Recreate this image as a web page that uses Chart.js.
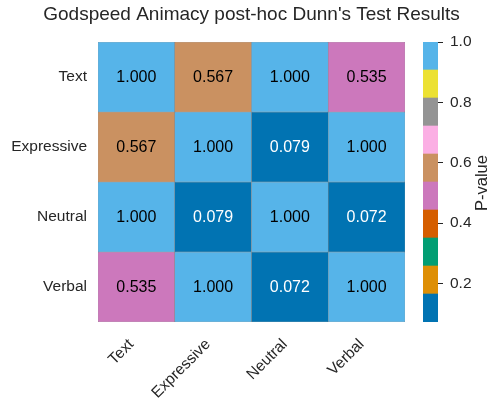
<!DOCTYPE html>
<html>
<head>
<meta charset="utf-8">
<script src="https://cdn.jsdelivr.net/npm/chart.js@4/dist/chart.umd.min.js"></script>
<style>
  html, body { margin: 0; padding: 0; background: #fff; overflow: hidden; width: 489px; height: 404px; }
  #heat { position: absolute; left: 0; top: 0; }
  #cbar { position: absolute; left: 405px; top: 0; }
</style>
</head>
<body>
<canvas id="heat" width="489" height="404"></canvas>
<canvas id="cbar" width="84" height="404"></canvas>
<script>
// groups compared (columns and rows are the same)
const groups = ['Text', 'Expressive', 'Neutral', 'Verbal'];
// p-values, one array per row
const rowText = [1.000, 0.567, 1.000, 0.535];
const rowExpressive = [0.567, 1.000, 0.079, 1.000];
const rowNeutral = [1.000, 0.079, 1.000, 0.072];
const rowVerbal = [0.535, 1.000, 0.072, 1.000];
const pValues = [rowText, rowExpressive, rowNeutral, rowVerbal];

// colour bar range and ticks
const vMin = 0.072;
const vMax = 1.0;
const cbarTicks = [0.2, 0.4, 0.6, 0.8, 1.0];
// seaborn "colorblind" palette, 10 bins
const palette = ['#0173b2', '#de8f05', '#029e73', '#d55e00', '#cc78bc',
                 '#ca9161', '#fbafe4', '#949494', '#ece133', '#56b4e9'];

const titleText = "Godspeed Animacy post-hoc Dunn's Test Results";
const cbarLabel = 'P-value';
const textColor = '#262626';
const fontFamily = '"Liberation Sans", Arial, sans-serif';

const binOf = v => Math.min(palette.length - 1, Math.floor((v - vMin) / (vMax - vMin) * palette.length));
const colorOf = v => palette[binOf(v)];
const isDark = hex => {
    const r = parseInt(hex.substr(1, 2), 16), g = parseInt(hex.substr(3, 2), 16), b = parseInt(hex.substr(5, 2), 16);
    return (0.299 * r + 0.587 * g + 0.114 * b) < 110;
};

// cell text, rotated column labels and title (centred over the cells)
const heatText = {
    id: 'heatText',
    afterDatasetsDraw(chart) {
        const ctx = chart.ctx;
        const a = chart.chartArea;
        ctx.save();
        ctx.font = '16px ' + fontFamily;
        ctx.textAlign = 'center';
        ctx.textBaseline = 'middle';
        chart.data.datasets.forEach((ds, i) => {
            chart.getDatasetMeta(i).data.forEach((bar, j) => {
                const v = pValues[i][j];
                const c = bar.getCenterPoint();
                ctx.fillStyle = isDark(colorOf(v)) ? '#ffffff' : '#000000';
                ctx.fillText(v.toFixed(3), c.x, c.y + 1);
            });
        });

        const xs = chart.scales.x;
        ctx.fillStyle = textColor;
        ctx.font = '15.5px ' + fontFamily;
        ctx.textAlign = 'right';
        ctx.textBaseline = 'middle';
        groups.forEach((g, j) => {
            ctx.save();
            ctx.translate(xs.getPixelForValue(j) - 5, a.bottom + 20);
            ctx.rotate(-Math.PI / 4);
            ctx.fillText(g, 0, 0);
            ctx.restore();
        });

        ctx.font = '19px ' + fontFamily;
        ctx.textAlign = 'center';
        ctx.fillText(titleText, (a.left + a.right) / 2, 15);
        ctx.restore();
    }
};

new Chart(document.getElementById('heat'), {
    type: 'bar',
    data: {
        labels: groups,
        datasets: pValues.map((row, i) => ({
            label: groups[i],
            data: row.map(() => [i, i + 1]),
            backgroundColor: row.map(colorOf),
            borderColor: '#8a8a8a',
            borderWidth: 0.5,
            borderSkipped: false,
            barPercentage: 1,
            categoryPercentage: 1,
            grouped: false
        }))
    },
    options: {
        responsive: false,
        animation: false,
        layout: { padding: { left: 0, right: 84, top: 42, bottom: 0 } },
        plugins: {
            legend: { display: false },
            tooltip: { enabled: false },
            title: { display: false }
        },
        scales: {
            x: {
                grid: { display: false, drawTicks: false },
                border: { display: false },
                ticks: { display: false },
                afterFit: s => { s.height = 82; }
            },
            y: {
                type: 'linear',
                min: 0,
                max: groups.length,
                reverse: true,
                grid: { display: false, drawTicks: false },
                border: { display: false },
                afterBuildTicks: s => { s.ticks = groups.map((_, i) => ({ value: i + 0.5 })); },
                ticks: {
                    color: textColor,
                    font: { family: fontFamily, size: 15.5 },
                    padding: 11,
                    callback: (v, i) => groups[i]
                },
                afterFit: s => { s.width = 98; }
            }
        }
    },
    plugins: [heatText]
});

// colour bar
const binEdges = palette.map((_, i) => vMin + (vMax - vMin) * i / palette.length);
const cbarTitle = {
    id: 'cbarTitle',
    afterDraw(chart) {
        const ctx = chart.ctx;
        const a = chart.chartArea;
        ctx.save();
        ctx.translate(77, (a.top + a.bottom) / 2 + 1);
        ctx.rotate(-Math.PI / 2);
        ctx.font = '16.5px ' + fontFamily;
        ctx.fillStyle = textColor;
        ctx.textAlign = 'center';
        ctx.textBaseline = 'middle';
        ctx.fillText(cbarLabel, 0, 0);
        ctx.restore();
    }
};

new Chart(document.getElementById('cbar'), {
    type: 'bar',
    data: {
        labels: [''],
        datasets: palette.map((c, i) => ({
            data: [[binEdges[i], i === palette.length - 1 ? vMax : binEdges[i + 1]]],
            backgroundColor: c,
            borderWidth: 0,
            barPercentage: 1,
            categoryPercentage: 1,
            grouped: false
        }))
    },
    options: {
        responsive: false,
        animation: false,
        layout: { padding: { left: 18, right: 0, top: 42, bottom: 82 } },
        plugins: { legend: { display: false }, tooltip: { enabled: false }, title: { display: false } },
        scales: {
            x: { display: false },
            y: {
                position: 'right',
                min: vMin,
                max: vMax,
                grid: { drawOnChartArea: false, drawTicks: true, tickLength: 5, color: textColor, lineWidth: 1 },
                border: { display: false },
                afterBuildTicks: s => { s.ticks = cbarTicks.map(v => ({ value: v })); },
                ticks: {
                    color: textColor,
                    font: { family: fontFamily, size: 15.5 },
                    padding: 7,
                    callback: v => v.toFixed(1)
                },
                afterFit: s => { s.width = 51; }
            }
        }
    },
    plugins: [cbarTitle]
});
</script>
</body>
</html>
